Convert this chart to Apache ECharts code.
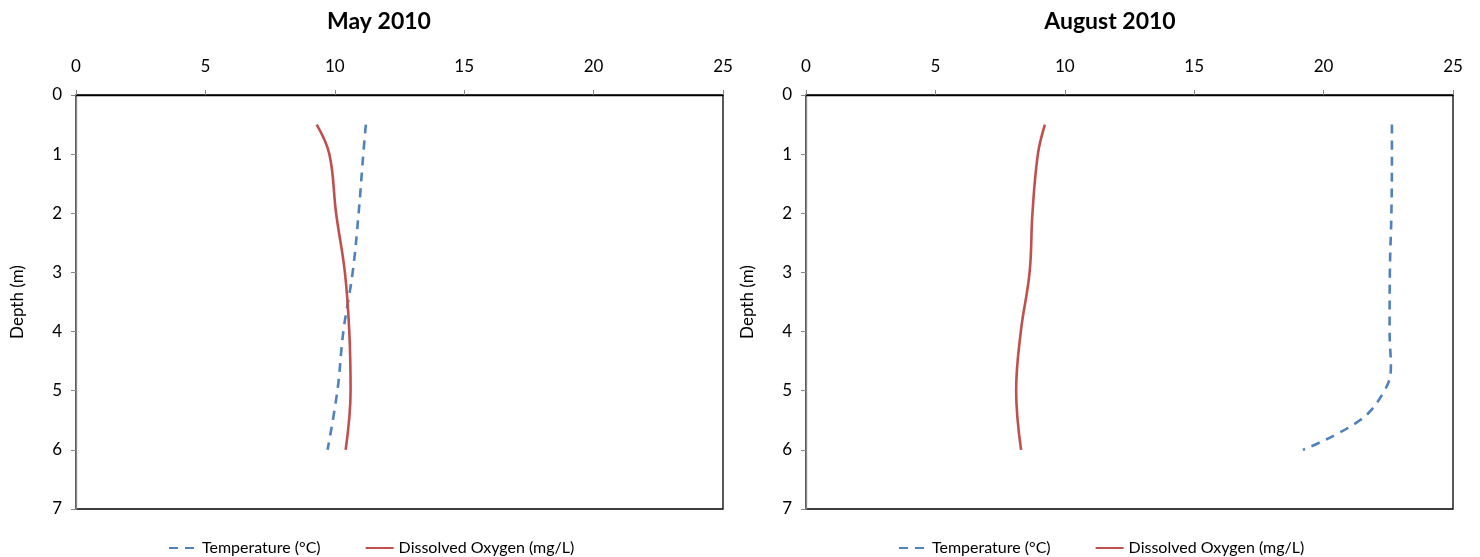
<!DOCTYPE html>
<html><head><meta charset="utf-8">
<script src="https://cdn.jsdelivr.net/npm/echarts@6/dist/echarts.min.js"></script>
<style>html,body{margin:0;padding:0;background:#fff}#c{width:1480px;height:557px}</style>
</head><body><div id="c"></div>
<script>
// Data
const titles = ['May 2010', 'August 2010'];
const xTicks = [0, 25, 5];
const yTicks = [0, 7, 1];
const mayDepth = [0.5, 1, 2, 3, 4, 5, 6];
const mayTemp = [11.2, 11.1, 10.92, 10.69, 10.33, 10.1, 9.72];
const mayDO = [9.3, 9.79, 10.05, 10.39, 10.56, 10.61, 10.42];
const augTempDepth = [0.5, 1, 2, 3, 4, 4.6, 5, 5.5, 6];
const augTemp = [22.64, 22.64, 22.62, 22.56, 22.55, 22.6, 22.35, 21.4, 19.2];
const augDODepth = [0.5, 1, 2, 3, 4, 5, 6];
const augDO = [9.23, 8.96, 8.75, 8.64, 8.3, 8.12, 8.31];
const tempName = 'Temperature (°C)';
const doName = 'Dissolved Oxygen (mg/L)';

const FONT = 'Lato, "Open Sans", sans-serif';
const BLUE = '#4F81BD', RED = '#C0504D';
const pairs = (xs, ds) => xs.map((v, i) => [v, ds[i]]);

const lefts = [76, 806];
const centers = [374, 1105];
const legendLefts = [163, 893];
const grid = lefts.map(l => ({left: l, top: 95, width: 647, height: 414, show: true, borderColor: '#000', borderWidth: 1.3, backgroundColor: 'transparent'}));
const xAxis = [0, 1].map(i => ({
  type: 'value', gridIndex: i, position: 'top', min: xTicks[0], max: xTicks[1], interval: xTicks[2],
  axisLine: {show: true, lineStyle: {color: '#000', width: 1.3}},
  axisTick: {show: true, length: 5, lineStyle: {color: '#888'}},
  axisLabel: {fontSize: 17, color: '#000', fontFamily: FONT, margin: 20},
  splitLine: {show: false}
}));
const yAxis = [0, 1].map(i => ({
  type: 'value', gridIndex: i, inverse: true, min: yTicks[0], max: yTicks[1], interval: yTicks[2],
  name: 'Depth (m)', nameLocation: 'middle', nameGap: 50, nameRotate: 90,
  nameTextStyle: {fontSize: 17, color: '#000', fontFamily: FONT},
  axisLine: {show: true, onZero: false, lineStyle: {color: '#868686', width: 1.3}},
  axisTick: {show: true, length: 5, lineStyle: {color: '#888'}},
  axisLabel: {fontSize: 17, color: '#000', fontFamily: FONT, margin: 14},
  splitLine: {show: false}
}));
const mk = (name, data, i, color, dashed) => ({
  name, type: 'line', xAxisIndex: i, yAxisIndex: i, data, smooth: 0.4, symbol: 'none',
  lineStyle: {color, width: 2.6, type: dashed ? [9, 7] : 'solid'}, itemStyle: {color}
});
const series = [
  mk(tempName, pairs(mayTemp, mayDepth), 0, BLUE, true),
  mk(doName, pairs(mayDO, mayDepth), 0, RED, false),
  mk(tempName, pairs(augTemp, augTempDepth), 1, BLUE, true),
  mk(doName, pairs(augDO, augDODepth), 1, RED, false)
];
const legend = legendLefts.map(l => ({
  data: [tempName, doName], left: l, top: 535, itemWidth: 28, itemHeight: 10, itemGap: 44,
  itemStyle: {opacity: 0},
  textStyle: {fontSize: 16, color: '#000', fontFamily: FONT}
}));
const title = titles.map((t, i) => ({
  text: t, left: centers[i], top: 5, textAlign: 'center',
  textStyle: {fontSize: 23, fontWeight: 'bold', color: '#000', fontFamily: FONT}
}));
const chart = echarts.init(document.getElementById('c'));
chart.setOption({animation: false, title, grid, xAxis, yAxis, series, legend});
</script></body></html>
